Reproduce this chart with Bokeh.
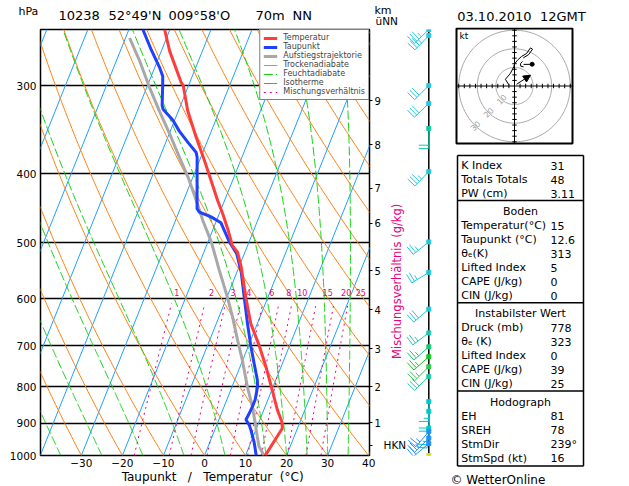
import numpy as np
from bokeh.plotting import figure
from bokeh.models import (Range1d, FixedTicker, LogAxis, Legend, LegendItem,
                          PrintfTickFormatter, Arrow, NormalHead)
from bokeh.layouts import row, column
from bokeh.embed import file_html
from bokeh.resources import INLINE
from bokeh.core.properties import value

FONT = "DejaVu Sans"

# ---------------- sounding data (hPa, °C) ----------------
temp_p = [250, 268, 297, 300, 326, 355, 383, 409, 436, 455, 478, 505, 516, 541, 600, 651, 698, 749, 808, 862, 895, 915, 1000]
temp_T = [-51.3, -48.0, -42.1, -41.3, -37.7, -33.1, -28.8, -25.2, -21.7, -19.2, -16.5, -13.7, -11.8, -9.5, -5.2, -1.6, 2.5, 6.3, 10.1, 13.3, 15.5, 16.3, 14.8]

dew_p = [250, 267, 283, 291, 299, 320, 324, 336, 348, 361, 373, 379, 448, 453, 460, 469, 499, 518, 550, 600, 651, 702, 741, 782, 799, 834, 853, 871, 890, 905, 920, 960, 1000]
dew_T = [-56.6, -52.6, -48.8, -47.2, -46.4, -44.5, -43.9, -40.4, -37.8, -34.6, -31.6, -30.9, -25.9, -25.0, -21.7, -18.7, -14.8, -11.9, -9.0, -5.6, -2.4, 0.7, 3.1, 5.5, 6.2, 6.9, 6.9, 6.8, 6.6, 7.9, 8.8, 10.9, 12.6]

parcel_p = [257, 277, 302, 326, 351, 379, 404, 436, 465, 499, 547, 597, 637, 687, 733, 799, 853, 900, 940, 971, 1000]
parcel_T = [-59.0, -54.3, -49.3, -44.6, -39.9, -35.2, -31.2, -26.9, -23.4, -19.2, -14.5, -9.9, -6.7, -3.2, -0.1, 3.7, 6.9, 9.2, 11.0, 12.4, 14.5]

pressure_ticks = [300, 400, 500, 600, 700, 800, 900, 1000]
temp_ticks = [-30, -20, -10, 0, 10, 20, 30, 40]
km_labels = ["1", "2", "3", "4", "5", "6", "7", "8", "9"]
km_p = [899, 799, 706, 622, 548, 470, 419, 364, 315]
hkn_p = 967

isotherm_T = list(range(-90, 50, 10))
dry_theta = list(range(-40, 140, 10))
moist_thetaw = [-35, -25, -15, -5, 5, 15, 20, 25, 30, 35]
mixing_w = [1, 2, 3, 4, 6, 8, 10, 15, 20, 25]

# wind profile
wind_p = [250, 255, 300, 318, 345, 397, 499, 551, 621, 671, 702, 725, 749, 773, 839, 866, 915, 925, 945, 962, 1000]
wind_dir = [226, 224, 225, 226, 180, 224, 231, 238, 229, 233, 228, 228, 225, 225, 180, 180, 185, 220, 225, 230, 110]
wind_spd = [35, 35, 30, 30, 20, 35, 25, 25, 30, 25, 25, 25, 25, 30, 15, 20, 25, 25, 25, 20, 15]
wind_col = ["#20c8e0", "#20c8e0", "#20c8e0", "#20c8e0", "#10c8a0", "#20c8d8", "#20c8d8", "#20c8d8",
            "#20c8d8", "#20c8b0", "#18c878", "#10c820", "#30c850", "#20c8a0", "#00c8c8", "#00c8c8",
            "#00c8c8", "#2090ff", "#2090ff", "#2090ff", "#c8e020"]

# hodograph
hodo_u = [-3.1, -4.9, -2.2, -0.4, 0.0, 1.8, 3.8, 6.5, 8.6, 9.7, 7.6, 4.7]
hodo_v = [0.7, 3.6, 6.8, 10.3, 11.9, 14.1, 15.9, 17.5, 20.5, 19.8, 16.9, 15.1]
storm_u = [1.1, 8.6]
storm_v = [0.9, 5.8]
bracket_u = [4.3, 3.2, 3.4, 4.9]
bracket_v = [13.2, 12.0, 10.6, 10.3]
meanwind_u = [4.9, 9.5]
meanwind_v = [11.6, 11.7]
hodo_rings = [10, 20, 30]

# table
idx_labels = ["K Index", "Totals Totals", "PW (cm)"]
idx_values = ["31", "48", "3.11"]
boden_labels = ["Temperatur(°C)", "Taupunkt (°C)", "θₑ(K)", "Lifted Index", "CAPE (J/kg)", "CIN (J/kg)"]
boden_values = ["15", "12.6", "313", "5", "0", "0"]
inst_labels = ["Druck (mb)", "θₑ (K)", "Lifted Index", "CAPE (J/kg)", "CIN (J/kg)"]
inst_values = ["778", "323", "0", "39", "25"]
hodo_labels = ["EH", "SREH", "StmDir", "StmSpd (kt)"]
hodo_values = ["81", "78", "239°", "16"]

# ---------------- colours ----------------
C_ISO = "#1ea0ff"
C_DRY = "#ff8010"
C_MOIST = "#10d010"
C_MIX = "#e6007e"
C_T = "#ff3c3c"
C_TD = "#2040ff"
C_PAR = "#a8a8a8"

P_BOT, P_TOP = 1000.0, 250.0
SKEW = 30.0
X_LEFT, X_RIGHT = -39.95, 40.2
FRAME_H = 428.0
S_PX = FRAME_H / np.log(P_BOT / P_TOP)


def skx(T, pr):
    return np.asarray(T, float) + SKEW * np.log(P_BOT / np.asarray(pr, float))


def sat_mix(Tc, pr):
    es = 6.112 * np.exp(17.67 * Tc / (Tc + 243.5))
    return 0.622 * es / (pr - es)


def moist_lapse(Tk, pr):
    Rd, cp, Lv, eps = 287.04, 1005.7, 2.501e6, 0.622
    rs = sat_mix(Tk - 273.15, pr)
    return (Rd * Tk + Lv * rs) / (pr * (cp + Lv * Lv * rs * eps / (Rd * Tk * Tk)))


def moist_profile(tw, pres):
    Tk = tw + 273.15
    out = [Tk]
    for i in range(1, len(pres)):
        p0, p1 = pres[i - 1], pres[i]
        h = p1 - p0
        k1 = moist_lapse(Tk, p0)
        k2 = moist_lapse(Tk + h * k1 / 2, p0 + h / 2)
        k3 = moist_lapse(Tk + h * k2 / 2, p0 + h / 2)
        k4 = moist_lapse(Tk + h * k3, p1)
        Tk = Tk + h * (k1 + 2 * k2 + 2 * k3 + k4) / 6
        out.append(Tk)
    return np.array(out) - 273.15


def blank(fig):
    fig.grid.visible = False
    fig.outline_line_color = None
    fig.background_fill_color = "white"
    fig.border_fill_color = "white"


def txt(fig, x, y, s, size, color="black", align="left", baseline="middle", angle=0.0):
    fig.text(x=[x], y=[y], text=[s], text_font=value(FONT), text_font_size=size,
             text_color=color, text_align=align, text_baseline=baseline, angle=angle)


# ---------------- header band ----------------
hd = figure(width=629, height=27, x_range=Range1d(0, 629), y_range=Range1d(27, 0),
            toolbar_location=None, output_backend="svg", min_border=0,
            min_border_left=0, min_border_right=0, min_border_top=0, min_border_bottom=0,
            x_axis_location=None, y_axis_location=None)
blank(hd)
txt(hd, 18, 11, "hPa", "11px")
txt(hd, 58, 15, "10238", "13px")
txt(hd, 108, 15, "52°49'N", "13px")
txt(hd, 168, 15, "009°58'O", "13px")
txt(hd, 255, 15, "70m", "13px")
txt(hd, 292, 15, "NN", "13px")
txt(hd, 374, 9.5, "km", "11px")
txt(hd, 375, 20, "üNN", "10.5px")
txt(hd, 456.7, 16, "03.10.2010\u00a0\u00a012GMT", "13px")

# ---------------- main skew-T figure ----------------
p = figure(width=383, height=459, x_range=Range1d(X_LEFT, X_RIGHT), y_range=Range1d(P_BOT, P_TOP),
           y_axis_type="log", toolbar_location=None, output_backend="svg",
           min_border_left=40, min_border_right=12, min_border_top=2, min_border_bottom=29)
p.background_fill_color = "white"
p.border_fill_color = "white"
p.outline_line_color = "black"
p.outline_line_width = 1.5
p.outline_line_alpha = 1.0

pp = np.geomspace(P_BOT, P_TOP, 160)

iso_xs = [list(skx([t, t], [P_BOT, P_TOP])) for t in isotherm_T]
iso_ys = [[P_BOT, P_TOP] for _ in isotherm_T]
r_iso = p.multi_line(iso_xs, iso_ys, line_color=C_ISO, line_width=1)

dry_xs, dry_ys = [], []
for th in dry_theta:
    Tc = (th + 273.15) * (pp / 1000.0) ** 0.2857 - 273.15
    dry_xs.append(list(skx(Tc, pp)))
    dry_ys.append(list(pp))
r_dry = p.multi_line(dry_xs, dry_ys, line_color=C_DRY, line_width=1)

pm_int = np.linspace(P_BOT, P_TOP, 301)
moist_xs, moist_ys = [], []
for tw in moist_thetaw:
    Tc = moist_profile(tw, pm_int)
    moist_xs.append(list(skx(Tc, pm_int)))
    moist_ys.append(list(pm_int))
r_moist = p.multi_line(moist_xs, moist_ys, line_color=C_MOIST, line_width=1, line_dash="9 3")

pmix = np.geomspace(P_BOT, 610.0, 40)
mix_xs, mix_ys = [], []
for w in mixing_w:
    e = (w / 1000.0) * pmix / (0.622 + w / 1000.0)
    lg = np.log(e / 6.112)
    Tc = 243.5 * lg / (17.67 - lg)
    mix_xs.append(list(skx(Tc, pmix)))
    mix_ys.append(list(pmix))
r_mix = p.multi_line(mix_xs, mix_ys, line_color=C_MIX, line_width=1, line_dash="2 4")

w_arr = np.array(mixing_w) / 1000.0
e600 = w_arr * 600.0 / (0.622 + w_arr)
lg600 = np.log(e600 / 6.112)
x600 = skx(243.5 * lg600 / (17.67 - lg600), np.full(len(mixing_w), 600.0))
lab_x = x600 + 0.97 + 0.045 * (x600 - x600[0])
p.text(x=list(lab_x), y=[588] * len(mixing_w), text=[str(w) for w in mixing_w],
       text_font=value(FONT), text_font_size="8px", text_color=C_MIX,
       text_align="center", text_baseline="middle")

r_par = p.line(skx(parcel_T, parcel_p), parcel_p, line_color=C_PAR, line_width=3)
r_td = p.line(skx(dew_T, dew_p), dew_p, line_color=C_TD, line_width=3)
r_t = p.line(skx(temp_T, temp_p), temp_p, line_color=C_T, line_width=3)

ya = p.yaxis[0]
ya.ticker = FixedTicker(ticks=pressure_ticks, minor_ticks=[])
ya.formatter = PrintfTickFormatter(format="%d")
ya.major_tick_out = 0
ya.major_tick_in = 0
ya.minor_tick_line_color = None
ya.axis_line_color = None
ya.major_label_standoff = 4
ya.major_label_text_font = FONT
ya.major_label_text_font_size = "10.5px"
ya.major_label_text_color = "black"

xa = p.xaxis[0]
xa.ticker = FixedTicker(ticks=temp_ticks, minor_ticks=[])
xa.major_label_overrides = {t: (f"\u2212{abs(t)}" if t < 0 else str(t)) for t in temp_ticks}
xa.major_tick_out = 0
xa.major_tick_in = 0
xa.minor_tick_line_color = None
xa.axis_line_color = None
xa.major_label_standoff = 3
xa.major_label_text_font = FONT
xa.major_label_text_font_size = "10.5px"
xa.major_label_text_color = "black"
xa.axis_label = "\u00a0" * 4 + "Taupunkt\u00a0\u00a0\u00a0/\u00a0\u00a0\u00a0Temperatur\u00a0\u00a0(°C)"
xa.axis_label_standoff = 0
xa.axis_label_text_font = FONT
xa.axis_label_text_font_size = "12px"
xa.axis_label_text_font_style = "normal"
xa.axis_label_text_color = "black"

km_axis = LogAxis(ticker=FixedTicker(ticks=km_p + [hkn_p], minor_ticks=[]),
                  major_label_overrides={**{k: l for k, l in zip(km_p, km_labels)}, hkn_p: ""})
km_axis.major_tick_out = 3
km_axis.major_tick_in = 0
km_axis.major_tick_line_color = "black"
km_axis.minor_tick_line_color = None
km_axis.axis_line_color = None
km_axis.major_label_standoff = 2
km_axis.major_label_text_font = FONT
km_axis.major_label_text_font_size = "10px"
km_axis.major_label_text_color = "black"
p.add_layout(km_axis, "right")

p.ygrid.ticker = FixedTicker(ticks=pressure_ticks, minor_ticks=[])
p.ygrid.grid_line_color = "black"
p.ygrid.grid_line_width = 1.5
p.ygrid.grid_line_alpha = 1.0
p.xgrid.visible = False

legend = Legend(items=[
    LegendItem(label="Temperatur", renderers=[r_t]),
    LegendItem(label="Taupunkt", renderers=[r_td]),
    LegendItem(label="Aufstiegstrajektorie", renderers=[r_par]),
    LegendItem(label="Trockenadiabate", renderers=[r_dry]),
    LegendItem(label="Feuchtadiabate", renderers=[r_moist]),
    LegendItem(label="Isotherme", renderers=[r_iso]),
    LegendItem(label="Mischungsverhältnis", renderers=[r_mix]),
], location="top_right", margin=0, padding=3, spacing=0,
    glyph_width=14, glyph_height=6, label_height=6, label_standoff=6,
    label_text_font=FONT, label_text_font_size="8px", label_text_line_height=0.8,
    border_line_color="black", border_line_width=1.5,
    background_fill_color="white", background_fill_alpha=1.0)
p.add_layout(legend)

# ---------------- wind barb column ----------------
X_WIND = 45.3
fw = figure(width=65, height=459, x_range=Range1d(0, 65), y_range=Range1d(P_BOT, P_TOP),
            y_axis_type="log", toolbar_location=None, output_backend="svg",
            min_border_left=0, min_border_right=0, min_border_top=2, min_border_bottom=29,
            x_axis_location=None, y_axis_location=None)
blank(fw)


def p_shift(pr, dy_up):
    return pr * np.exp(-dy_up / S_PX)


fw.line([X_WIND, X_WIND], [P_TOP, P_BOT], line_color="black", line_width=1.5)

STAFF, FEATH, STEP = 20.0, 10.0, 3.2
sx0, sy0, sx1, sy1, scol = [], [], [], [], []
for pr, d, s, c in zip(wind_p, wind_dir, wind_spd, wind_col):
    rad = np.radians(d)
    ux, uy = np.sin(rad), np.cos(rad)
    fx, fy = uy, -ux
    tx, ty = STAFF * ux, STAFF * uy
    sx0.append(X_WIND); sy0.append(pr); sx1.append(X_WIND + tx); sy1.append(p_shift(pr, ty)); scol.append(c)
    n10 = int(s // 10)
    n5 = int(round((s - 10 * n10) / 5.0))
    feathers = [FEATH] * n10 + [0.5 * FEATH] * n5
    for k, fl in enumerate(feathers):
        bx, by = tx - k * STEP * ux, ty - k * STEP * uy
        sx0.append(X_WIND + bx); sy0.append(p_shift(pr, by))
        sx1.append(X_WIND + bx + fl * fx); sy1.append(p_shift(pr, by + fl * fy)); scol.append(c)
fw.segment(x0=sx0, y0=sy0, x1=sx1, y1=sy1, line_color=scol, line_width=1)
fw.scatter(x=[X_WIND] * len(wind_p), y=wind_p, marker="square", size=4, color=wind_col)
txt(fw, 0, hkn_p, "HKN", "10.5px")
txt(fw, 13, P_BOT * np.exp(-175.0 / S_PX), "Mischungsverhältnis (g/kg)", "11.5px",
    color=C_MIX, align="center", angle=np.pi / 2)

# ---------------- hodograph ----------------
HS = 116.0 / 62.4
fh = figure(width=181, height=123, x_range=Range1d(-66 / HS, 115 / HS), y_range=Range1d(-64.5 / HS, 58.5 / HS),
            toolbar_location=None, output_backend="svg", min_border=0,
            min_border_left=0, min_border_right=0, min_border_top=0, min_border_bottom=0,
            x_axis_location=None, y_axis_location=None)
blank(fh)
ang = np.linspace(0, 2 * np.pi, 121)
fh.multi_line([list(r * np.cos(ang)) for r in hodo_rings], [list(r * np.sin(ang)) for r in hodo_rings],
              line_color="#a8a8a8", line_width=1)
fh.segment(x0=[-31.2, 0], y0=[0, -30.9], x1=[31.2, 0], y1=[0, 30.9], line_color="black", line_width=1)
tk = [t for t in range(-30, 31, 3) if t != 0]
fh.segment(x0=tk, y0=[-1.2] * len(tk), x1=tk, y1=[1.2] * len(tk), line_color="black", line_width=1)
fh.segment(x0=[-1.2] * len(tk), y0=tk, x1=[1.2] * len(tk), y1=tk, line_color="black", line_width=1)
fh.text(x=[-r * 0.7071 for r in hodo_rings], y=[-r * 0.7071 for r in hodo_rings],
        text=[str(r) for r in hodo_rings], angle=np.pi / 4, text_font=value(FONT),
        text_font_size="8px", text_color="#a0a0a0", text_align="center", text_baseline="middle")
fh.line(hodo_u, hodo_v, line_color="black", line_width=1)
fh.line(bracket_u, bracket_v, line_color="black", line_width=1)
fh.line(meanwind_u, meanwind_v, line_color="black", line_width=1)
fh.scatter(x=[meanwind_u[-1]], y=[meanwind_v[-1]], marker="circle", size=4, color="black")
fh.add_layout(Arrow(end=NormalHead(size=7, fill_color="black", line_color="black"),
                    x_start=storm_u[0], y_start=storm_v[0], x_end=storm_u[1], y_end=storm_v[1],
                    line_color="black", line_width=1))
fh.quad(left=[-31.2], right=[31.2], bottom=[-30.93], top=[30.93], fill_color=None,
        line_color="black", line_width=2)
txt(fh, -29.6, 29.4, "kt", "9px", baseline="top")

# ---------------- table ----------------
ft = figure(width=181, height=336, x_range=Range1d(0, 181), y_range=Range1d(336, 0),
            toolbar_location=None, output_backend="svg", min_border=0,
            min_border_left=0, min_border_right=0, min_border_top=0, min_border_bottom=0,
            x_axis_location=None, y_axis_location=None)
blank(ft)

sections = [(None, idx_labels, idx_values), ("Boden", boden_labels, boden_values),
            ("Instabilster Wert", inst_labels, inst_values), ("Hodograph", hodo_labels, hodo_values)]
TX0, TX1, ROW = 9.0, 135.0, 14.0
y = 15.0
seps = []
lab_t, lab_y, val_t, val_y, hd_t, hd_y = [], [], [], [], [], []
for si, (title, labs, vals) in enumerate(sections):
    if si > 0:
        seps.append(y - ROW + 7.0)
        y += 4.2
    if title:
        hd_t.append(title); hd_y.append(y); y += ROW
    for lb, vl in zip(labs, vals):
        lab_t.append(lb); lab_y.append(y); val_t.append(vl); val_y.append(y); y += ROW
top_y, bot_y = 5.0, y - ROW + 8.0
hy = [top_y] + seps + [bot_y]
ft.segment(x0=[TX0] * len(hy) + [TX0, TX1], y0=hy + [top_y, top_y],
           x1=[TX1] * len(hy) + [TX0, TX1], y1=hy + [bot_y, bot_y],
           line_color="black", line_width=1.5)
ft.text(x=[TX0 + 3.7] * len(lab_t), y=lab_y, text=lab_t, text_font=value(FONT), text_font_size="11px",
        text_color="black", text_baseline="middle", text_align="left")
ft.text(x=[102.0] * len(val_t), y=val_y, text=val_t, text_font=value(FONT), text_font_size="11px",
        text_color="black", text_baseline="middle", text_align="left")
ft.text(x=[(TX0 + TX1) / 2] * len(hd_t), y=hd_y, text=hd_t, text_font=value(FONT), text_font_size="11px",
        text_color="black", text_baseline="middle", text_align="center")
ft.text(x=[2.0], y=[329.0], text=["© WetterOnline"], text_font=value(FONT), text_font_size="12px",
        text_color="black", text_baseline="middle", text_align="left")

layout = column(hd, row(p, fw, column(fh, ft)))
open("out.html", "w").write(file_html(layout, INLINE))
